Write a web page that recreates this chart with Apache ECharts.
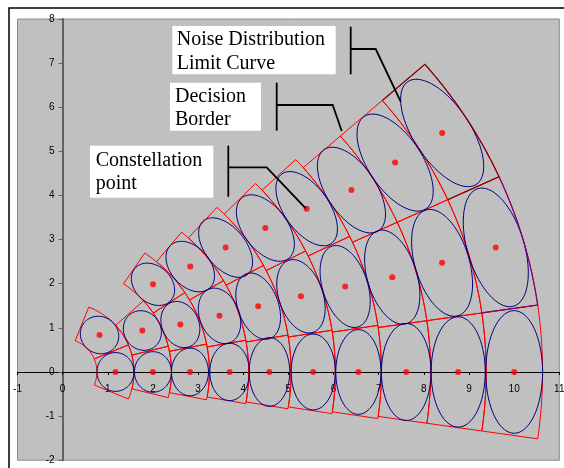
<!DOCTYPE html>
<html>
<head>
<meta charset="utf-8">
<script src="https://cdn.jsdelivr.net/npm/echarts@6/dist/echarts.min.js"></script>
<style>html,body{margin:0;padding:0;background:#fff;}#c{width:564px;height:468px;}</style>
</head>
<body>
<div id="c"></div>
<script>
// ---- data ----
// constellation rings (polar): radius of the points on each ring
const ringRadius = [1.17, 2.0, 2.82, 3.7, 4.58, 5.55, 6.55, 7.61, 8.76, 10.0];
// angular spacing (degrees) between the points of a ring; first point at 0 deg
const ringStep = [45.7, 28, 22.4, 20.1, 19, 18, 17.2, 16.4, 16.4, 16.4];
// number of points on each ring
const ringPoints = [2, 2, 3, 3, 3, 3, 3, 3, 3, 3];
// decision border radii (inner edge of ring 1 ... outer edge of ring 10)
const ringEdges = [0.76, 1.58, 2.41, 3.25, 4.12, 5.06, 6.04, 7.06, 8.15, 9.38, 10.63];
// noise ellipse semi-axes per ring: radial and tangential
const radialSemi = [0.41, 0.41, 0.41, 0.44, 0.45, 0.49, 0.50, 0.55, 0.60, 0.63];
const tangentialSemi = [0.44, 0.46, 0.54, 0.65, 0.78, 0.86, 0.96, 1.10, 1.25, 1.39];
// noise distribution limit curve (polar vertices, arcs where radius is constant)
const limitDarkR = [9.38, 10.63, 10.63, 9.38];
const limitDarkA = [41, 41, 24.6, 24.6];
const limitPurpleR = [10.63, 10.63, 9.38];
const limitPurpleA = [24.6, 8.2, 8.2];

function pol(r, deg) {
  const a = deg * Math.PI / 180;
  return [r * Math.cos(a), r * Math.sin(a)];
}

const cellData = [];
const pointData = [];
ringRadius.forEach(function (R, i) {
  for (let k = 0; k < ringPoints[i]; k++) {
    cellData.push([i, k]);
    pointData.push(pol(R, k * ringStep[i]));
  }
});

function polarPath(api, rs, as) {
  const pts = [];
  for (let j = 0; j < rs.length; j++) {
    if (j > 0 && rs[j] === rs[j - 1]) {
      const n = 24;
      for (let s = 1; s <= n; s++) {
        const a = as[j - 1] + (as[j] - as[j - 1]) * s / n;
        pts.push(api.coord(pol(rs[j], a)));
      }
    } else {
      pts.push(api.coord(pol(rs[j], as[j])));
    }
  }
  return pts;
}

const chart = echarts.init(document.getElementById('c'), null, {renderer: 'canvas'});
const serif = '"Liberation Serif","Times New Roman",serif';

function label(x, y, text) {
  return {type: 'text', z: 101, silent: true, style: {text: text, x: x, y: y, fontFamily: serif, fontSize: 20, fill: '#000', verticalAlign: 'middle', align: 'left'}};
}
function box(x, y, w, h) {
  return {type: 'rect', z: 100, silent: true, shape: {x: x, y: y, width: w, height: h}, style: {fill: '#fff'}};
}
function pline(pts) {
  return {type: 'polyline', z: 102, silent: true, shape: {points: pts}, style: {fill: null, stroke: '#000', lineWidth: 1.8}};
}

const GL = 17.5, GR = 4.7, GT = 19, GB = 7.8;
const H = 468, W = 564;
// offsets so the axes cross at the data origin
const xAxisOffset = -((H - GB) - (GT + (H - GT - GB) * 8 / 10));
const yAxisOffset = -((W - GL - GR) * 1 / 12);

const option = {
  animation: false,
  backgroundColor: '#fff',
  grid: {left: GL, right: GR, top: GT, bottom: GB, outerBoundsMode: 'none', containLabel: false, show: true, backgroundColor: '#C0C0C0', borderColor: '#8a8a8a', borderWidth: 1},
  xAxis: {
    type: 'value', min: -1, max: 11, interval: 1, position: 'bottom', offset: xAxisOffset,
    axisLine: {onZero: false, lineStyle: {color: '#000', width: 1}},
    axisTick: {show: true, length: 3, lineStyle: {color: '#000'}},
    axisLabel: {color: '#000', fontSize: 10, fontFamily: '"Liberation Sans",Arial,sans-serif', margin: 12, showMinLabel: true, showMaxLabel: true, hideOverlap: false},
    splitLine: {show: false}
  },
  yAxis: {
    type: 'value', min: -2, max: 8, interval: 1, position: 'left', offset: yAxisOffset,
    axisLine: {onZero: false, lineStyle: {color: '#606060', width: 2}},
    axisTick: {show: true, length: 4, lineStyle: {color: '#606060'}},
    axisLabel: {color: '#000', fontSize: 10, fontFamily: '"Liberation Sans",Arial,sans-serif', margin: 8, showMinLabel: true, showMaxLabel: true, hideOverlap: false},
    splitLine: {show: false}
  },
  series: [
    {
      type: 'custom', name: 'cells', silent: true, z: 3,
      data: cellData,
      renderItem: function (params, api) {
        const i = api.value(0), k = api.value(1);
        const step = ringStep[i];
        const a0 = (k - 0.5) * step, a1 = (k + 0.5) * step;
        const rIn = ringEdges[i], rOut = ringEdges[i + 1];
        const n = 16, pts = [];
        for (let j = 0; j <= n; j++) pts.push(api.coord(pol(rIn, a0 + (a1 - a0) * j / n)));
        for (let j = n; j >= 0; j--) pts.push(api.coord(pol(rOut, a0 + (a1 - a0) * j / n)));
        return {type: 'polygon', shape: {points: pts}, style: {fill: 'none', stroke: '#ff0000', lineWidth: 1}};
      }
    },
    {
      type: 'custom', name: 'ellipses', silent: true, z: 4,
      data: cellData,
      renderItem: function (params, api) {
        const i = api.value(0), k = api.value(1);
        const th = k * ringStep[i] * Math.PI / 180;
        const c = pol(ringRadius[i], k * ringStep[i]);
        const ar = radialSemi[i], at = tangentialSemi[i];
        const pts = [];
        const n = 72;
        for (let j = 0; j < n; j++) {
          const t = 2 * Math.PI * j / n;
          const u = ar * Math.cos(t), v = at * Math.sin(t);
          pts.push(api.coord([c[0] + u * Math.cos(th) - v * Math.sin(th), c[1] + u * Math.sin(th) + v * Math.cos(th)]));
        }
        return {type: 'polygon', shape: {points: pts}, style: {fill: 'none', stroke: '#000080', lineWidth: 1}};
      }
    },
    {
      type: 'custom', name: 'limit', silent: true, z: 5,
      data: [[0, 0]],
      renderItem: function (params, api) {
        return {type: 'group', children: [
          {type: 'polyline', shape: {points: polarPath(api, limitDarkR, limitDarkA)}, style: {fill: 'none', stroke: '#800000', lineWidth: 1.2}},
          {type: 'polyline', shape: {points: polarPath(api, limitPurpleR, limitPurpleA)}, style: {fill: 'none', stroke: '#800080', lineWidth: 1.2}}
        ]};
      }
    },
    {
      type: 'scatter', name: 'points', z: 6, silent: true,
      symbol: 'circle', symbolSize: 6,
      itemStyle: {color: '#ff0000'},
      data: pointData
    }
  ],
  graphic: [
    {type: 'rect', z: 99, silent: true, shape: {x: 9, y: 8, width: 700, height: 700}, style: {fill: 'none', stroke: '#000', lineWidth: 1.5}},
    box(172.3, 26, 163.4, 48.3),
    label(176.7, 40, 'Noise Distribution'),
    label(176.7, 63.3, 'Limit Curve'),
    box(170, 82.7, 91, 48),
    label(175, 96.6, 'Decision'),
    label(175, 119.3, 'Border'),
    box(90, 145.7, 123.3, 52),
    label(95.7, 161, 'Constellation'),
    label(95.7, 183.3, 'point'),
    pline([[350.7, 26.7], [350.7, 74.3]]),
    pline([[350.7, 49], [375.7, 49], [400.7, 101.7]]),
    pline([[276.7, 82.7], [276.7, 130.7]]),
    pline([[276.7, 105], [332.7, 105], [341.7, 131]]),
    pline([[228.3, 145.7], [228.3, 196.7]]),
    pline([[228.3, 167.3], [266.7, 167.3], [305.7, 208.3]])
  ]
};
chart.setOption(option);
</script>
</body>
</html>
